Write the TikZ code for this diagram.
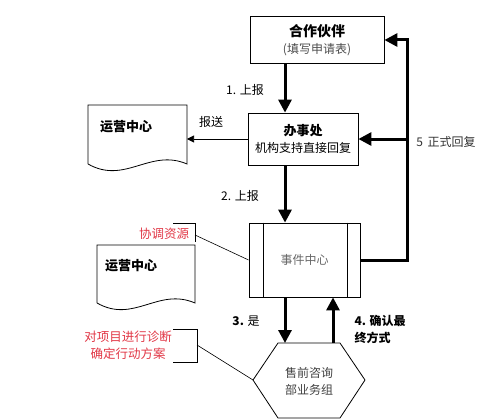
\documentclass[tikz,border=0pt]{standalone}
\usepackage{fontspec}
\setmainfont{Noto Sans CJK SC}
\usetikzlibrary{arrows.meta}
\definecolor{notered}{RGB}{225,55,70}
\tikzset{
  box/.style={draw, line width=0.8pt, align=center, inner sep=0pt},
  flow/.style={line width=3pt, -{Triangle[length=13pt,width=13pt]}},
  thinarrow/.style={line width=0.6pt, -{Triangle[length=7pt,width=7pt]}},
  lbl/.style={font=\fontsize{12}{17}\selectfont},
  big/.style={font=\fontsize{13}{17}\selectfont\bfseries},
  note/.style={font=\fontsize{12.5}{17}\selectfont, text=notered, align=center},
}
\begin{document}
\begin{tikzpicture}[x=1pt,y=-1pt]
\useasboundingbox (0, 0) rectangle (503, 420);

% boxes
\node (partner) at (317, 40) [box, minimum width=134pt, minimum height=47pt, lbl]
  {{\fontsize{14}{17}\selectfont\bfseries 合作伙伴}\\{\color{black!70}(填写申请表)}};
\node (office) at (303, 139) [box, minimum width=110pt, minimum height=52pt, lbl]
  {{\fontsize{13}{17}\selectfont\bfseries 办事处}\\机构支持直接回复};
\node (event) at (304.5, 260) [box, minimum width=111pt, minimum height=74pt, lbl, text=black!60] {事件中心};
\draw [line width=0.8pt] ([xshift=15pt]event.north west) -- ([xshift=15pt]event.south west);
\draw [line width=0.8pt] ([xshift=-13pt]event.north east) -- ([xshift=-13pt]event.south east);

% hexagon
\coordinate (hexn) at (309, 343);
\coordinate (hexw) at (253, 380);
\draw [line width=0.8pt] (hexw) -- (278, 343) -- (340, 343) -- (365, 380) -- (340, 418) -- (278, 418) -- cycle;
\node (sales) at (309, 381) [lbl, align=center, text=black!75] {售前咨询\\部业务组};

% documents
\draw [line width=0.8pt] (88, 164) -- (88, 105) -- (187, 105) -- (187, 164)
  .. controls (150, 148) and (125, 185) .. (88, 164);
\node (ops1) at (126, 127) [big] {运营中心};
\coordinate (doc1e) at (187, 139);
\draw [line width=0.8pt] (97, 303) -- (97, 245) -- (195, 245) -- (195, 303)
  .. controls (158, 287) and (134, 324) .. (97, 303);
\node (ops2) at (131, 266) [big] {运营中心};

% flow arrows
\coordinate (ax) at (285, 0);
\coordinate (bx) at (333, 0);
\draw [flow] (partner.south -| ax) -- (office.north -| ax);
\draw [flow] (office.south -| ax) -- (event.north -| ax);
\draw [flow] (event.south -| ax) -- (hexn -| ax);
\draw [flow] (hexn -| bx) -- (event.south -| bx);
\draw [thinarrow] (office.west) -- (office.west -| doc1e);

% reply loop
\coordinate (rt) at (407, 40);
\coordinate (rm) at (407, 139);
\draw [flow] (event.east) -- (event.east -| rt) -- (rt) -- (partner.east);
\draw [flow] (rm) -- (office.east);

% labels
\node (l1) at (245, 90) [lbl] {1. 上报};
\node (l2) at (240, 196) [lbl] {2. 上报};
\node (l3) at (246, 321) [lbl] {\textbf{3.} 是};
\node (l4) at (351, 329) [lbl, anchor=west, align=left] {\textbf{4. 确认最}\\\textbf{终方式}};
\node (l5) at (446, 142) [lbl, text=black!80] {5\, 正式回复};
\node (lsend) at (211, 122) [lbl] {报送};

% notes
\node (n1) at (164, 234) [note] {协调资源};
\draw [line width=0.6pt] (173, 223) -- (195, 223) -- (195, 242);
\draw [line width=0.6pt] (195, 235) -- (event.west);
\node (n2) at (128, 345) [note] {对项目进行诊断\\确定行动方案};
\draw [line width=0.6pt] (173, 329) -- (197, 329) -- (197, 362) -- (173, 362);
\draw [line width=0.6pt] (197, 345) -- (hexw);
\end{tikzpicture}
\end{document}
